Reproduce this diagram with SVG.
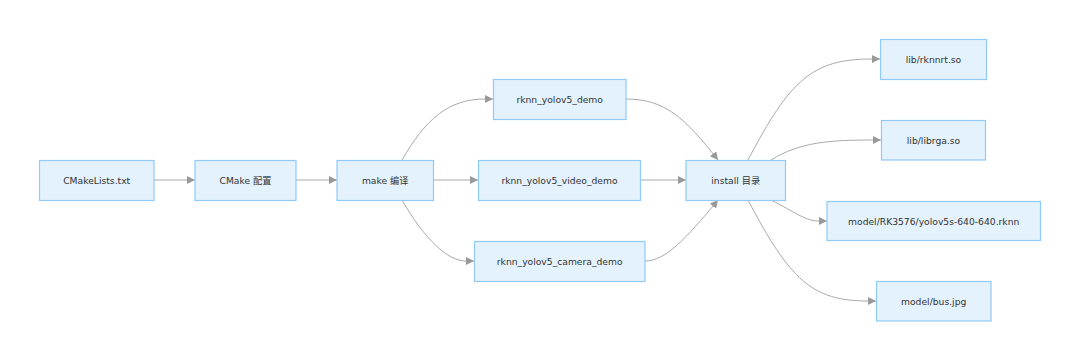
<svg xmlns="http://www.w3.org/2000/svg" width="1080" height="361" viewBox="0 0 1080 361">
<style>
.node rect{fill:#e3f2fd;stroke:#90caf9;stroke-width:1.2}
.node text{font-family:"DejaVu Sans",Verdana,sans-serif;font-size:9.2px;fill:#333;text-anchor:middle;dominant-baseline:central}
.node text.cjk{font-family:"DejaVu Sans","Noto Sans CJK SC",sans-serif}
#edges path{fill:none;stroke:#aaaaaa;stroke-width:1;marker-end:url(#arr)}
</style>
<defs>
<marker id="arr" markerUnits="userSpaceOnUse" markerWidth="10" markerHeight="10" refX="8" refY="4" orient="auto">
<path d="M0,0 L8,4 L0,8 Z" fill="#999"/>
</marker>
</defs>
<rect width="1080" height="361" fill="#fff"/>
<g id="edges">
<path d="M154,180 L195,180"/>
<path d="M296,180 L337,180"/>
<path d="M433,180 L478,180"/>
<path d="M402,160 C425,120 448,99 485,99 L493,99"/>
<path d="M402,200 C425,240 448,261 466,261 L474,261"/>
<path d="M640,180 L686,180"/>
<path d="M626,99 C665,99 685,118 718,160"/>
<path d="M645,261 C665,261 685,240 718,200"/>
<path d="M748,160 C790,80 812,59 872,59 L880,59"/>
<path d="M771,160 C800,142 830,140 873,140 L881,140"/>
<path d="M771,200 C795,212 805,221 819,221 L827,221"/>
<path d="M748,200 C790,280 812,301 868,301 L876,301"/>
</g>
<g id="n1" class="node"><rect x="39.5" y="160.5" width="114.5" height="40"/><text x="96.7" y="180.5">CMakeLists.txt</text></g>
<g id="n2" class="node"><rect x="195" y="160.5" width="101" height="40"/><text class="cjk" x="245.5" y="180.5">CMake 配置</text></g>
<g id="n3" class="node"><rect x="337" y="160.5" width="96.5" height="40"/><text class="cjk" x="385.2" y="180.5">make 编译</text></g>
<g id="n4" class="node"><rect x="493.5" y="79.5" width="132.5" height="40"/><text x="559.7" y="99.5">rknn_yolov5_demo</text></g>
<g id="n5" class="node"><rect x="478.5" y="160.5" width="162" height="40"/><text x="559.5" y="180.5">rknn_yolov5_video_demo</text></g>
<g id="n6" class="node"><rect x="474.5" y="241.5" width="170.5" height="40"/><text x="559.7" y="261.5">rknn_yolov5_camera_demo</text></g>
<g id="n7" class="node"><rect x="686" y="160.5" width="99.5" height="40"/><text class="cjk" x="735.7" y="180.5">install 目录</text></g>
<g id="n8" class="node"><rect x="880.5" y="39.5" width="106" height="40"/><text x="933.5" y="59.5">lib/rknnrt.so</text></g>
<g id="n9" class="node"><rect x="881.5" y="120.5" width="104" height="39.5"/><text x="933.5" y="140.3">lib/librga.so</text></g>
<g id="n10" class="node"><rect x="827" y="201.5" width="213.5" height="39"/><text x="933.7" y="221">model/RK3576/yolov5s-640-640.rknn</text></g>
<g id="n11" class="node"><rect x="876.5" y="281.5" width="114.5" height="39.5"/><text x="933.7" y="301.3">model/bus.jpg</text></g>
</svg>
